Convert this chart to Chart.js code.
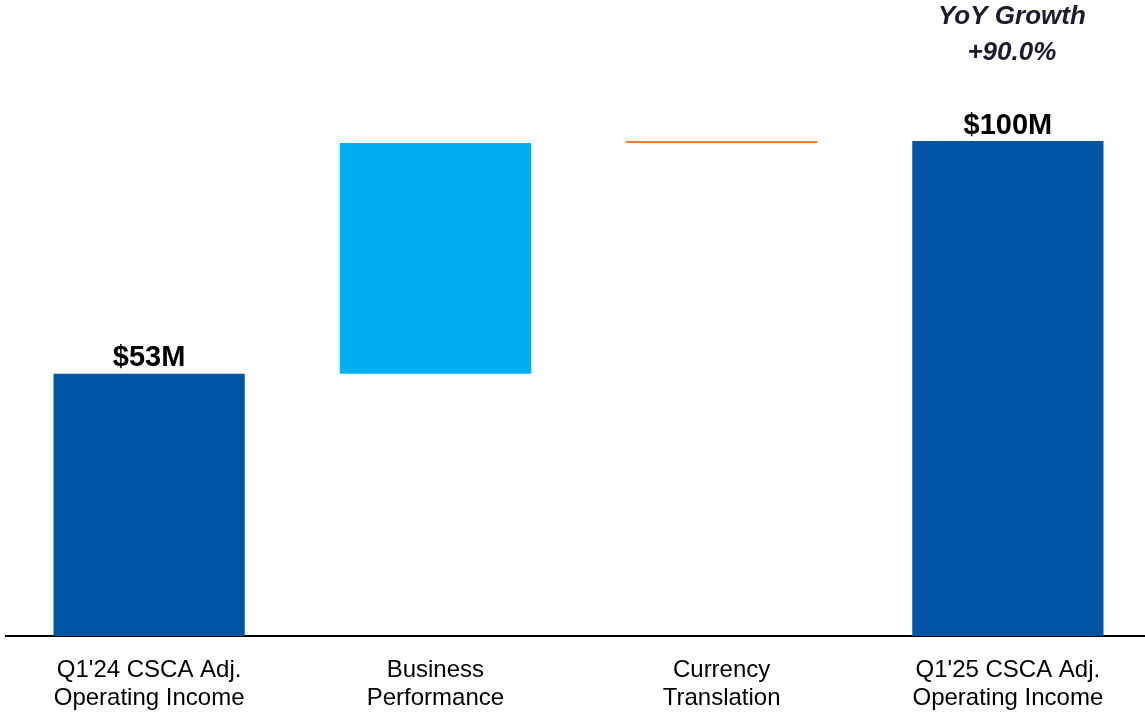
<!DOCTYPE html>
<html>
<head>
<meta charset="utf-8">
<script src="https://cdn.jsdelivr.net/npm/chart.js@4"></script>
<style>
  html, body { margin: 0; padding: 0; background: #fff; overflow: hidden; }
  #wrap { width: 1151px; height: 713px; position: relative; }
</style>
</head>
<body>
<div id="wrap"><canvas id="chart"></canvas></div>
<script>
// categories (two-line labels)
const categories = [
  ["Q1'24 CSCA Adj.", 'Operating Income'],
  ['Business', 'Performance'],
  ['Currency', 'Translation'],
  ["Q1'25 CSCA Adj.", 'Operating Income'],
];
// waterfall: start / end of each step ($M)
const stepStart = [0, 53, 99.6, 0];
const stepEnd = [53, 99.6, 100, 100];
const barColors = ['#0055A5', '#00B0F0', '#ED7D31', '#0055A5'];
// value labels over total bars
const valueLabels = ['$53M', '', '', '$100M'];
const growthLines = ['YoY Growth', '+90.0%'];

/*** plugin for labels ***/
const labelPlugin = {
  id: 'labelPlugin',
  afterDatasetsDraw(chart) {
    const ctx = chart.ctx;
    const meta = chart.getDatasetMeta(0);
    ctx.save();
    ctx.textAlign = 'center';
    ctx.textBaseline = 'bottom';
    ctx.fillStyle = '#000';
    ctx.font = 'bold 29px "Liberation Sans", Arial, sans-serif';
    meta.data.forEach((bar, i) => {
      if (valueLabels[i]) {
        ctx.fillText(valueLabels[i], bar.x, bar.y - 1);
      }
    });
    // growth note above last bar
    const last = meta.data[meta.data.length - 1];
    ctx.fillStyle = '#1b1b2f';
    ctx.font = 'italic bold 26px "Liberation Sans", Arial, sans-serif';
    ctx.textBaseline = 'middle';
    ctx.fillText(growthLines[0], last.x + 4, 17);
    ctx.fillText(growthLines[1], last.x + 4, 53);
    ctx.restore();
  },
};

new Chart(document.getElementById('chart'), {
  type: 'bar',
  data: {
    labels: categories,
    datasets: [
      {
        data: stepStart.map((s, i) => [s, stepEnd[i]]),
        backgroundColor: barColors,
        borderWidth: 0,
        categoryPercentage: 1,
        barPercentage: 0.668,
      },
    ],
  },
  options: {
    responsive: true,
    maintainAspectRatio: false,
    animation: false,
    layout: { padding: { left: 6, right: 0, top: 0, bottom: 0 } },
    plugins: {
      legend: { display: false },
      tooltip: { enabled: false },
    },
    scales: {
      x: {
        grid: { display: false, drawTicks: false },
        border: { display: true, color: '#000', width: 2 },
        ticks: {
          color: '#000',
          padding: 20,
          maxRotation: 0,
          font: { family: '"Liberation Sans", Arial, sans-serif', size: 24, lineHeight: 1.17 },
        },
        afterFit: (scale) => {
          scale.height = 77;
        },
      },
      y: {
        display: false,
        min: 0,
        max: 128.5,
      },
    },
  },
  plugins: [labelPlugin],
});
</script>
</body>
</html>
